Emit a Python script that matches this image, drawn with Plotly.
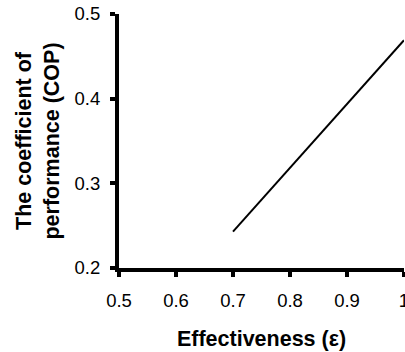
import plotly.graph_objects as go

effectiveness = [0.7, 0.8, 0.9, 1.0]
cop = [0.243, 0.318, 0.394, 0.469]

x_ticks = [0.5, 0.6, 0.7, 0.8, 0.9, 1.0]
x_tick_labels = ["0.5", "0.6", "0.7", "0.8", "0.9", "1"]
y_ticks = [0.2, 0.3, 0.4, 0.5]
y_tick_labels = ["0.2", "0.3", "0.4", "0.5"]

fig = go.Figure()
fig.add_trace(go.Scatter(x=effectiveness, y=cop, mode="lines",
                         line=dict(color="black", width=2), showlegend=False))

font = "Liberation Sans, Arial, sans-serif"
fig.update_layout(
    width=405, height=352,
    margin=dict(l=119, r=1, t=14, b=84),
    paper_bgcolor="white", plot_bgcolor="white",
    font=dict(family=font, color="black", size=18.5),
)
fig.update_xaxes(
    range=[0.5, 1.0], tickvals=x_ticks, ticktext=x_tick_labels, automargin=False,
    showgrid=False, zeroline=False, showline=True, linecolor="black", linewidth=4,
    ticks="outside", ticklen=5, tickwidth=4, tickcolor="black",
    tickfont=dict(size=18.5), ticklabeloverflow="allow", ticklabelstandoff=8,
    title=dict(text="<b>Effectiveness (ε)</b>", font=dict(size=21.5), standoff=22),
)
fig.update_yaxes(
    range=[0.2, 0.5], tickvals=y_ticks, ticktext=y_tick_labels, automargin=False,
    showgrid=False, zeroline=False, showline=True, linecolor="black", linewidth=4,
    ticks="outside", ticklen=5, tickwidth=4, tickcolor="black",
    tickfont=dict(size=18.5), ticklabeloverflow="allow", ticklabelstandoff=6,
    title=dict(text="<b>The coefficient of<br>performance (COP)</b>", font=dict(size=21.5), standoff=10),
)
fig.write_html("out.html", config={"displayModeBar": False},
               post_script="document.body.style.margin='0';")
